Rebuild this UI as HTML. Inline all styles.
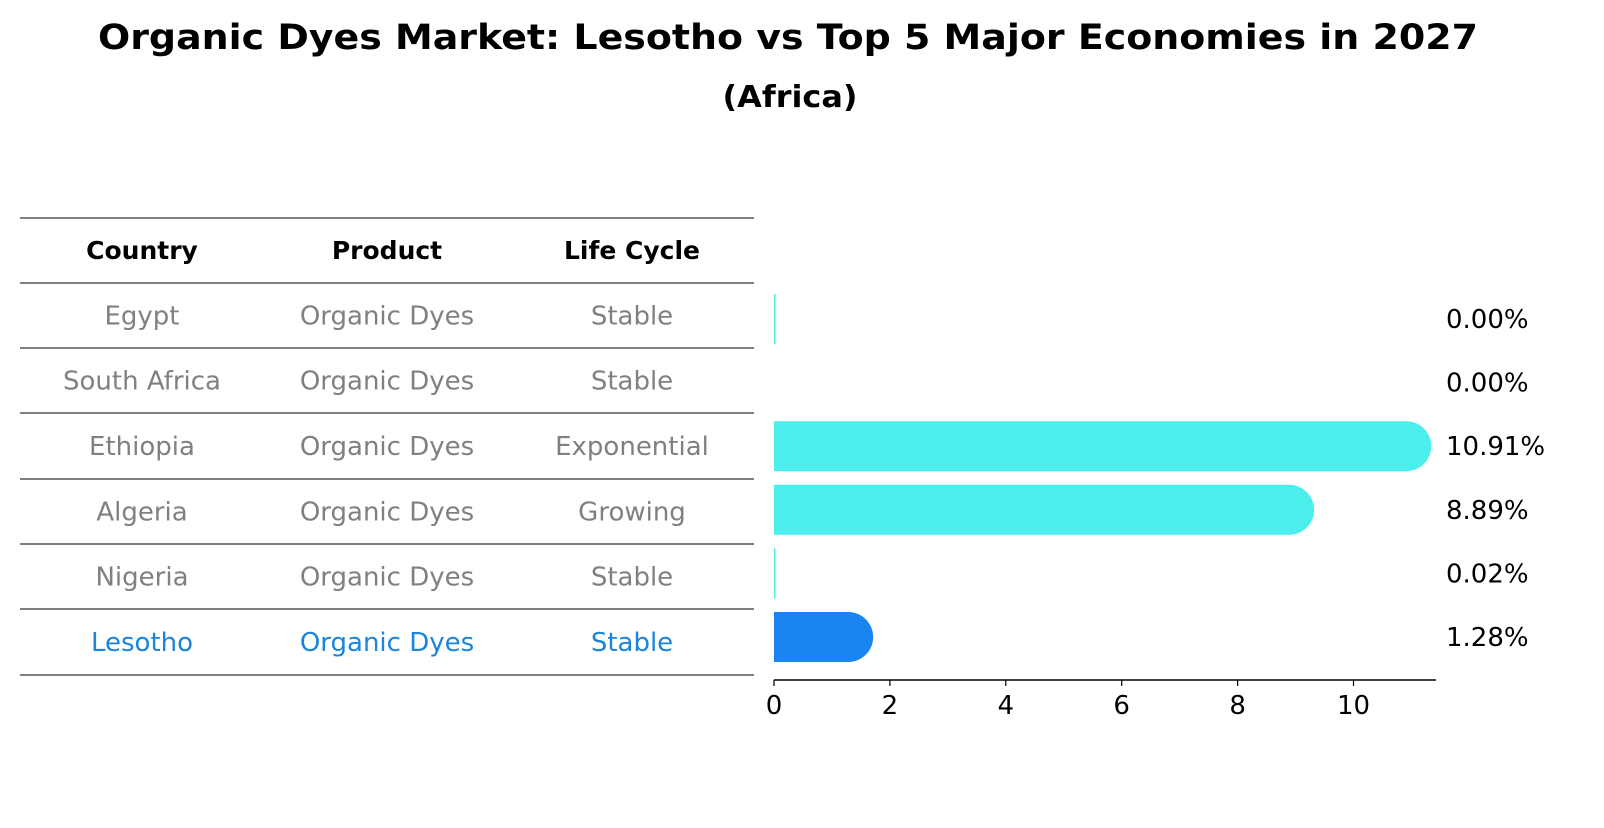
<!DOCTYPE html>
<html><head><meta charset="utf-8"><style>
body{margin:0;background:#fff;font-family:"Liberation Sans","DejaVu Sans",sans-serif;}
</style></head><body>
<svg width="1604" height="823" xmlns="http://www.w3.org/2000/svg" font-family="DejaVu Sans, Liberation Sans, sans-serif">
<text x="788" y="49" text-anchor="middle" font-size="35" font-weight="bold" textLength="1380" lengthAdjust="spacingAndGlyphs">Organic Dyes Market: Lesotho vs Top 5 Major Economies in 2027</text>
<text x="790" y="107" text-anchor="middle" font-size="30" font-weight="bold" textLength="135" lengthAdjust="spacingAndGlyphs">(Africa)</text>
<g id="table"></g>
<g id="bars"></g>
</svg>
<script>
const countries=["Egypt","South Africa","Ethiopia","Algeria","Nigeria","Lesotho"];
const products=["Organic Dyes","Organic Dyes","Organic Dyes","Organic Dyes","Organic Dyes","Organic Dyes"];
const lifeCycles=["Stable","Stable","Exponential","Growing","Stable","Stable"];
const shares=[0.00,0.00,10.91,8.89,0.02,1.28];
const xTicks=[0,2,4,6,8,10];
const NS="http://www.w3.org/2000/svg";
function mk(tag,attrs,parent,text){const e=document.createElementNS(NS,tag);for(const k in attrs)e.setAttribute(k,attrs[k]);if(text!==undefined)e.textContent=text;parent.appendChild(e);return e;}
const tbl=document.getElementById('table');
const lineYs=[218,283,348,413,479,544,609,675];
lineYs.forEach((y,i)=>{const l=mk('line',{x1:20,x2:754,y1:y,y2:y,stroke:'#000','stroke-width':1},tbl);

});
const colX=[142,387,632];
["Country","Product","Life Cycle"].forEach((h,i)=>{const t=mk('text',{x:colX[i],y:259,'text-anchor':'middle','font-size':25,'font-weight':'bold'},tbl,h);

});
const rowY=i=>(lineYs[i+1]+lineYs[i+2])/2;
countries.forEach((c,i)=>{const col=c==="Lesotho"?'#1a85db':'#808080';
[c,products[i],lifeCycles[i]].forEach((v,j)=>{const t=mk('text',{x:colX[j],y:rowY(i)+9,'text-anchor':'middle','font-size':26,fill:col},tbl,v);

});});
const g=document.getElementById('bars');
const x0=774,pxPer=57.95,axisY=680;
const xs=v=>x0+v*pxPer;
const barY=i=>319+i*63.6;
const bh=50;
shares.forEach((v,i)=>{const col=countries[i]==="Lesotho"?'#1a85f0':'#4beeea';
const cy=barY(i);const w=xs(v)-x0;const r=bh/2;
if(v>0.05){
const p=mk('path',{d:`M${x0},${cy-r} H${x0+w} A${r},${r} 0 0 1 ${x0+w},${cy+r} H${x0} Z`,fill:col},g);

}
else if(i!==1){const p=mk('rect',{x:x0,y:cy-r,width:1.5,height:bh,fill:col},g);

}
const t=mk('text',{x:1446,y:cy+9,'font-size':26},g,v.toFixed(2)+'%');

});
const ax=mk('line',{x1:x0,x2:1436,y1:axisY,y2:axisY,stroke:'#000','stroke-width':1.5},g);


xTicks.forEach(v=>{const tk=mk('line',{x1:xs(v),x2:xs(v),y1:axisY,y2:axisY+6,stroke:'#000','stroke-width':1.2},g);


const t=mk('text',{x:xs(v),y:axisY+34,'text-anchor':'middle','font-size':26},g,String(v));

});
</script>
</body></html>
